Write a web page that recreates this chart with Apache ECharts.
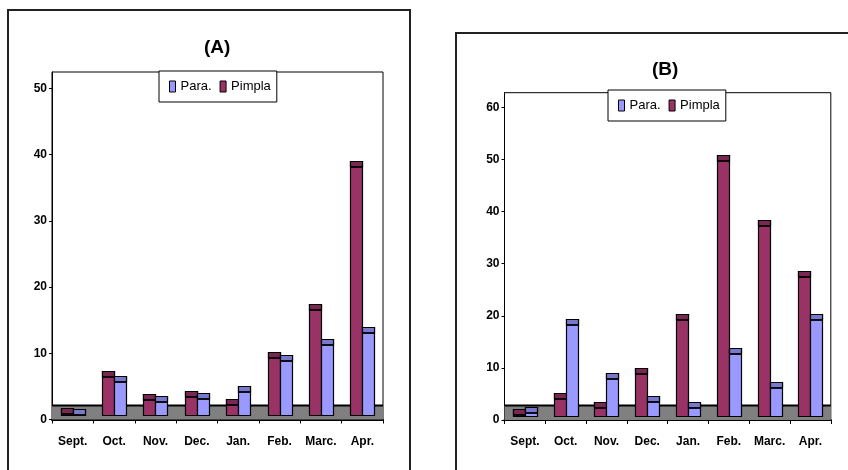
<!DOCTYPE html>
<html>
<head>
<meta charset="utf-8">
<script src="https://cdn.jsdelivr.net/npm/echarts@6/dist/echarts.min.js"></script>
<style>
  html, body { margin: 0; padding: 0; background: #fff; }
  #chart { width: 848px; height: 470px; }
</style>
</head>
<body>
<div id="chart"></div>
<script>
// Monthly counts of Para. and Pimpla, panels (A) and (B)
const months = ['Sept.', 'Oct.', 'Nov.', 'Dec.', 'Jan.', 'Feb.', 'Marc.', 'Apr.'];

const paraA   = [1.6, 6.5, 3.6, 4.0, 5.0, 9.7, 12.1, 14.0];
const pimplaA = [1.7, 7.3, 3.8, 4.3, 3.1, 10.2, 17.4, 39.1];

const paraB   = [2.5, 19.4, 9.1, 4.6, 3.4, 13.8, 7.3, 20.3];
const pimplaB = [2.2, 5.2, 3.4, 9.9, 20.3, 50.8, 38.4, 28.5];

const yTicksA = [0, 10, 20, 30, 40, 50];
const yTicksB = [0, 10, 20, 30, 40, 50, 60];

const FONT = '"Liberation Sans Narrow", "Arial Narrow", "Liberation Sans", Arial, sans-serif';
const PARA_BODY = '#9999ff', PARA_CAP = '#7878cc';
const PIMPLA_BODY = '#993366', PIMPLA_CAP = '#782852';
const BAR_W = 12;      // column width, px
const CAP_H = 5.5;     // depth of the shaded column top, px
const LIFT = 4.5;      // columns stand slightly back on the floor
const FLOOR_H = 15;    // visible depth of the grey floor

// Draws a pseudo-3D column: front face, darker top band and black edges.
function columnRenderer(side, body, cap) {
  return function (params, api) {
    const i = api.value(0);
    const v = api.value(1);
    const top = api.coord([i, v]);
    const zero = api.coord([i, 0]);
    const x = Math.round(side < 0 ? top[0] - BAR_W : top[0]) + 0.5;
    const yTop = Math.round(top[1]) + 0.5;
    const base = Math.round(zero[1] - LIFT) + 0.5;
    const capBottom = Math.min(yTop + CAP_H, base);
    return {
      type: 'group',
      children: [
        { type: 'rect', shape: { x: x, y: yTop, width: BAR_W, height: Math.max(base - yTop, 0) },
          style: { fill: body, stroke: '#000', lineWidth: 1.2 } },
        { type: 'rect', shape: { x: x, y: yTop, width: BAR_W, height: Math.max(capBottom - yTop, 0) },
          style: { fill: cap, stroke: '#000', lineWidth: 1.2 } },
        { type: 'line', shape: { x1: x, y1: capBottom, x2: x + BAR_W, y2: capBottom },
          style: { stroke: '#000', lineWidth: 1.6 } }
      ]
    };
  };
}

// Grey floor band along the category axis.
function floorRenderer(params, api) {
  const cs = params.coordSys;
  const zero = api.coord([0, 0])[1];
  const yTop = Math.round(zero - FLOOR_H) + 0.5;
  return {
    type: 'group',
    children: [
      { type: 'rect', shape: { x: cs.x, y: yTop, width: cs.width, height: zero - yTop },
        style: { fill: '#808080' } },
      { type: 'line', shape: { x1: cs.x, y1: yTop, x2: cs.x + cs.width, y2: yTop },
        style: { stroke: '#000', lineWidth: 1.8 } }
    ]
  };
}

function xAxisFor(gridIndex) {
  return {
    type: 'category', gridIndex: gridIndex, data: months,
    axisLine: { lineStyle: { color: '#000', width: 2 } },
    axisTick: { show: true, length: 4, interval: 0, lineStyle: { color: '#000' } },
    axisLabel: { color: '#000', fontFamily: FONT, fontWeight: 'bold', fontSize: 12, margin: 16, interval: 0 },
    splitLine: { show: false }
  };
}

function yAxisFor(gridIndex, max, ticks) {
  return {
    type: 'value', gridIndex: gridIndex, min: 0, max: max, interval: 10,
    axisLine: { show: true, lineStyle: { color: '#000', width: 1 } },
    axisTick: { show: true, length: 3, inside: false, lineStyle: { color: '#000' }, customValues: ticks },
    axisLabel: { color: '#000', fontFamily: FONT, fontWeight: 'bold', fontSize: 12, margin: 5,
                 customValues: ticks, showMaxLabel: true },
    splitLine: { show: false }
  };
}

function legendAt(left, top) {
  return {
    left: left, top: top, orient: 'horizontal',
    data: ['Para.', 'Pimpla'],
    icon: 'rect', itemWidth: 6, itemHeight: 11, itemGap: 8,
    padding: [9, 6, 9, 10],
    backgroundColor: '#fff', borderColor: '#000', borderWidth: 1,
    itemStyle: { borderColor: '#000', borderWidth: 1 },
    textStyle: { color: '#000', fontFamily: FONT, fontSize: 13 },
    selectedMode: false
  };
}

const option = {
  backgroundColor: '#fff',
  animation: false,
  title: [
    { text: '(A)', left: 199, top: 33, textStyle: { fontFamily: FONT, fontWeight: 'bold', fontSize: 19, color: '#000' } },
    { text: '(B)', left: 647, top: 55, textStyle: { fontFamily: FONT, fontWeight: 'bold', fontSize: 19, color: '#000' } }
  ],
  graphic: [
    { type: 'rect', shape: { x: 8, y: 10, width: 402, height: 480 }, silent: true,
      style: { fill: 'none', stroke: '#222', lineWidth: 2 } },
    { type: 'rect', shape: { x: 456, y: 33, width: 420, height: 460 }, silent: true,
      style: { fill: 'none', stroke: '#222', lineWidth: 2 } }
  ],
  grid: [
    { left: 52, top: 72, width: 331, height: 347.5, show: true, borderColor: '#000', borderWidth: 1, backgroundColor: 'transparent' },
    { left: 504.5, top: 92.7, width: 326.3, height: 327.3, show: true, borderColor: '#000', borderWidth: 1, backgroundColor: 'transparent' }
  ],
  legend: [legendAt(159, 71), legendAt(608, 90)],
  xAxis: [xAxisFor(0), xAxisFor(1)],
  yAxis: [yAxisFor(0, 52.5, yTicksA), yAxisFor(1, 62.8, yTicksB)],
  series: [
    { type: 'custom', name: 'floorA', xAxisIndex: 0, yAxisIndex: 0, z: 1, silent: true,
      renderItem: floorRenderer, data: [[0, 0]] },
    { type: 'custom', name: 'Pimpla', xAxisIndex: 0, yAxisIndex: 0, z: 2,
      itemStyle: { color: PIMPLA_BODY },
      renderItem: columnRenderer(-1, PIMPLA_BODY, PIMPLA_CAP),
      data: pimplaA.map((v, i) => [i, v]) },
    { type: 'custom', name: 'Para.', xAxisIndex: 0, yAxisIndex: 0, z: 2,
      itemStyle: { color: PARA_BODY },
      renderItem: columnRenderer(1, PARA_BODY, PARA_CAP),
      data: paraA.map((v, i) => [i, v]) },
    { type: 'custom', name: 'floorB', xAxisIndex: 1, yAxisIndex: 1, z: 1, silent: true,
      renderItem: floorRenderer, data: [[0, 0]] },
    { type: 'custom', name: 'Pimpla', xAxisIndex: 1, yAxisIndex: 1, z: 2,
      itemStyle: { color: PIMPLA_BODY },
      renderItem: columnRenderer(-1, PIMPLA_BODY, PIMPLA_CAP),
      data: pimplaB.map((v, i) => [i, v]) },
    { type: 'custom', name: 'Para.', xAxisIndex: 1, yAxisIndex: 1, z: 2,
      itemStyle: { color: PARA_BODY },
      renderItem: columnRenderer(1, PARA_BODY, PARA_CAP),
      data: paraB.map((v, i) => [i, v]) }
  ]
};

const chart = echarts.init(document.getElementById('chart'), null, { renderer: 'canvas' });
chart.setOption(option);
</script>
</body>
</html>
